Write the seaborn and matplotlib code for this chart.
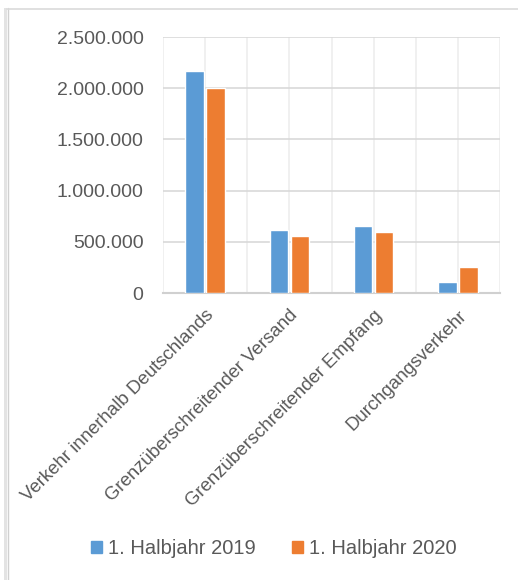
import matplotlib
matplotlib.use("Agg")
import matplotlib.pyplot as plt
import seaborn as sns
import pandas as pd
from matplotlib.ticker import FuncFormatter, MultipleLocator
from matplotlib.lines import Line2D
from matplotlib.patches import Rectangle

categories = ["Verkehr innerhalb Deutschlands", "Grenzüberschreitender Versand",
              "Grenzüberschreitender Empfang", "Durchgangsverkehr"]
series_names = ["1. Halbjahr 2019", "1. Halbjahr 2020"]
values_2019 = [2170000, 619000, 658000, 111000]
values_2020 = [2000000, 553000, 599000, 258000]
colors = ["#5B9BD5", "#ED7D31"]

df = pd.DataFrame({
    "Kategorie": categories * 2,
    "Serie": [series_names[0]] * 4 + [series_names[1]] * 4,
    "Wert": values_2019 + values_2020,
})

sns.set_theme(style="white")
plt.rcParams["font.family"] = ["Liberation Sans", "DejaVu Sans"]

W, H = 518, 580
fig = plt.figure(figsize=(W / 100, H / 100), dpi=100)
ax = fig.add_axes([163 / W, 1 - 293 / H, (500 - 163) / W, (293 - 37) / H])

sns.barplot(data=df, x="Kategorie", y="Wert", hue="Serie", palette=colors,
            width=0.5, gap=0.12, ax=ax, legend=False, zorder=3, saturation=1)

ax.set_ylim(0, 2500000)
ax.set_xlim(-0.5, 3.5)
ax.yaxis.set_major_locator(MultipleLocator(500000))
ax.yaxis.set_major_formatter(FuncFormatter(lambda v, p: f"{int(v):,}".replace(",", ".")))
ax.set_xticks(range(len(categories)))
ax.set_xticks([i - 0.5 for i in range(len(categories) + 1)], minor=True)
ax.set_xticklabels(categories, rotation=45, ha="right", rotation_mode="anchor")
ax.set_xlabel("")
ax.set_ylabel("")

ax.grid(axis="y", color="#D9D9D9", linewidth=1.2, zorder=0)
ax.grid(axis="x", which="both", color="#EDEDED", linewidth=1.2, zorder=0)
ax.set_axisbelow(True)
for s in ["top", "right", "left"]:
    ax.spines[s].set_visible(False)
ax.spines["bottom"].set_color("#D0D0D0")
ax.spines["bottom"].set_linewidth(1.5)

ax.tick_params(axis="y", length=0, pad=14, labelsize=14, labelcolor="#595959")
ax.tick_params(axis="x", which="both", length=0, pad=10, labelsize=13.4, labelcolor="#595959")

# legend
handles = [Rectangle((0, 0), 1, 1, color=c) for c in colors]
fig.legend(handles, series_names, loc="center", bbox_to_anchor=(274 / W, 1 - 549 / H),
           ncol=2, frameon=False, fontsize=14.5, labelcolor="#595959",
           handlelength=0.55, handleheight=0.55, handletextpad=0.3, columnspacing=1.8)

# outer frame fragments (cropped chart border)
fig.add_artist(Rectangle((4 / W, 0), 3 / W, 1 - 8 / H, transform=fig.transFigure,
                         color="#E3E3E3", lw=0))
fig.add_artist(Line2D([7.5 / W, 7.5 / W], [0, 1 - 8 / H], transform=fig.transFigure,
                      color="#D0D0D0", lw=1))
fig.add_artist(Line2D([7 / W, 1], [1 - 8.5 / H, 1 - 8.5 / H], transform=fig.transFigure,
                      color="#DADADA", lw=1.2))

fig.savefig("out.png", dpi=100)
